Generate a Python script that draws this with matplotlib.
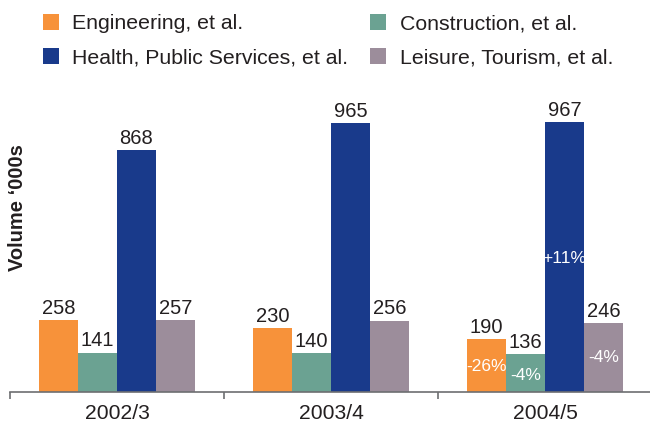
import matplotlib
matplotlib.use("Agg")
import matplotlib.pyplot as plt
from matplotlib.patches import Patch
import numpy as np

plt.rcParams['font.family'] = ['Liberation Sans', 'DejaVu Sans']

periods = ["2002/3", "2003/4", "2004/5"]
series_names = ["Engineering, et al.", "Construction, et al.",
                "Health, Public Services, et al.", "Leisure, Tourism, et al."]
engineering = [258, 230, 190]
construction = [141, 140, 136]
health = [868, 965, 967]
leisure = [257, 256, 246]
changes_last = ["-26%", "-4%", "+11%", "-4%"]
colors = ["#F7923A", "#6BA292", "#193A8B", "#9C8D9B"]

series = [engineering, construction, health, leisure]

fig = plt.figure(figsize=(6.5, 4.25), dpi=100)
ax = fig.add_axes([10/650, 33/425, 642/650, 279/425])

x = np.arange(len(periods))
w = 0.182
text_color = "#231F20"
for i, (vals, col) in enumerate(zip(series, colors)):
    xs = x + (i - 1.5) * w
    ax.bar(xs, vals, width=w, color=col, linewidth=0)
    for xi, v in zip(xs, vals):
        ax.text(xi, v + 8, str(v), ha="center", va="bottom",
                fontsize=14.5, color=text_color)

# percentage change labels for last period
last = len(periods) - 1
for i, (vals, lab) in enumerate(zip(series, changes_last)):
    xi = last + (i - 1.5) * w
    v = vals[last]
    if i == 2:
        y = 480
    elif i == 0:
        y = v * 0.5 - 2
    elif i == 1:
        y = v * 0.5 - 8
    else:
        y = v * 0.5 + 2
    ax.text(xi, y, lab, ha="center", va="center", fontsize=12.5, color="white")

ax.set_xlim(-0.5, 2.5)
ax.set_ylim(0, 1000)
for s in ["top", "right", "left"]:
    ax.spines[s].set_visible(False)
ax.spines["bottom"].set_color("#6D6E71")
ax.spines["bottom"].set_linewidth(1.2)
ax.set_yticks([])
ax.set_xticks([-0.5, 0.5, 1.5, 2.5])
ax.set_xticklabels([])
ax.tick_params(axis="x", which="major", length=5, color="#6D6E71", width=1.2)
ax.set_xticks(x, minor=True)
ax.set_xticklabels(periods, minor=True, fontsize=15.2, color=text_color)
ax.tick_params(axis="x", which="minor", length=0, pad=8.5)

fig.text(18/650, 1 - 208/425, "Volume \u2018000s", rotation=90, ha="center",
         va="center", fontsize=14.5, fontweight="bold", color=text_color)

order = [0, 2, 1, 3]
handles = [Patch(facecolor=colors[k], edgecolor="none") for k in order]
labels = [series_names[k] for k in order]
fig.legend(handles, labels, ncol=2, loc="upper left",
           bbox_to_anchor=(43/650, 1 - 14/425), frameon=False,
           fontsize=15.3, handlelength=0.75, handleheight=0.75,
           handletextpad=0.62, columnspacing=1.05, labelspacing=0.72,
           borderpad=0, borderaxespad=0, labelcolor=text_color)

fig.savefig("out.png", dpi=100)
